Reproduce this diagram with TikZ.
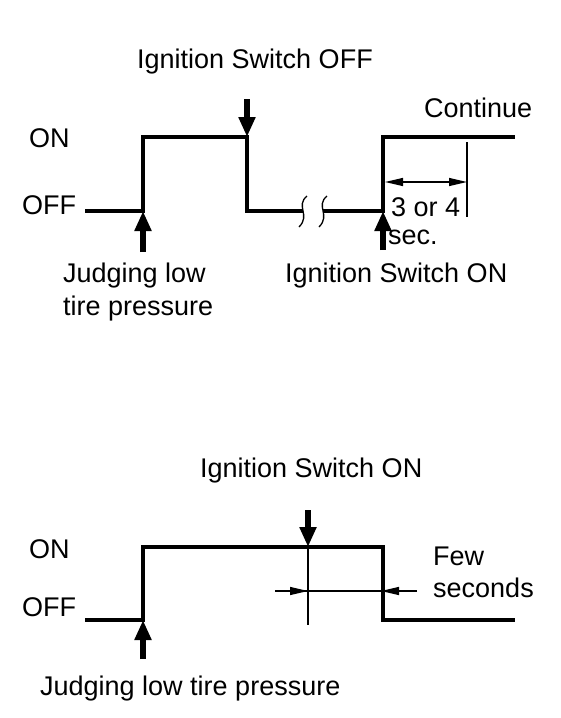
\documentclass[tikz,border=0pt]{standalone}
\usepackage{fontspec}
\setmainfont{Liberation Sans}
\usetikzlibrary{arrows.meta,positioning}

\begin{document}
\begin{tikzpicture}[x=1pt,y=-1pt,
        signal/.style={line width=4.5pt},
        push/.style={line width=5.5pt,-{Triangle[length=20pt,width=16pt]}},
        dimline/.style={line width=1.3pt},
        dimtip/.style={dimline,-{Triangle[length=18pt,width=8pt]}},
        lbl/.style={font=\fontsize{27}{31}\selectfont,inner sep=0pt,anchor=base west}]
    \useasboundingbox (0,0) rectangle (560,718);

    % upper chart
    \coordinate (u0) at (85,211);
    \coordinate (u1) at (143,211);
    \coordinate (u2) at (143,137);
    \coordinate (u3) at (247,137);
    \coordinate (u4) at (247,211);
    \coordinate (u5) at (303,211);
    \coordinate (u6) at (323,211);
    \coordinate (u7) at (383,211);
    \coordinate (u8) at (383,137);
    \coordinate (u9) at (515,137);
    \draw[signal] (u0) -- (u1) -- (u2) -- (u3) -- (u4) -- (u5);
    \draw[signal] (u6) -- (u7) -- (u8) -- (u9);
    \draw[dimline] (307,196) .. controls (295,206) and (311,215) .. (299,227);
    \draw[dimline] (327,196) .. controls (315,206) and (331,215) .. (319,227);

    \node[lbl] (uon)  at (29,147) {ON};
    \node[lbl] (uoff) at (22,214) {OFF};
    \node[lbl] (offsw) at (137,68) {Ignition Switch OFF};
    \node[lbl] (cont) at (424,117) {Continue};
    \node[lbl] (judge1) at (63,282) {Judging low};
    \node[lbl] (judge2) at (63,315) {tire pressure};
    \node[lbl] (onsw) at (285,282) {Ignition Switch ON};
    \node[lbl] (sec1) at (391,216) {3 or 4};
    \node[lbl] (sec2) at (388,244) {sec.};

    \coordinate (a1) at (143,252);
    \coordinate (a2) at (247,99);
    \coordinate (a3) at (383,250);
    \draw[push] (a1) -- (u1);
    \draw[push] (a2) -- (u3);
    \draw[push] (a3) -- (u7);

    \coordinate (d1) at (385,182);
    \coordinate (d2) at (467,182);
    \coordinate (dm) at (426,182);
    \draw[dimline] (467,142) -- (467,217);
    \draw[dimtip] (dm) -- (d1);
    \draw[dimtip] (dm) -- (d2);

    % lower chart
    \coordinate (l0) at (85,620);
    \coordinate (l1) at (143,620);
    \coordinate (l2) at (143,547);
    \coordinate (l3) at (383,547);
    \coordinate (l4) at (383,620);
    \coordinate (l5) at (515,620);
    \draw[signal] (l0) -- (l1) -- (l2) -- (l3) -- (l4) -- (l5);

    \node[lbl] (lon)  at (29,558) {ON};
    \node[lbl] (loff) at (22,616) {OFF};
    \node[lbl] (onsw2) at (200,477) {Ignition Switch ON};
    \node[lbl] (few1) at (433,565) {Few};
    \node[lbl] (few2) at (433,597) {seconds};
    \node[lbl] (judge3) at (40,695) {Judging low tire pressure};

    \coordinate (b1) at (143,659);
    \coordinate (b2) at (308,510);
    \coordinate (m) at (308,547);
    \draw[push] (b1) -- (l1);
    \draw[push] (b2) -- (m);

    \coordinate (e0) at (275,591);
    \coordinate (e1) at (308,591);
    \coordinate (e2) at (381,591);
    \coordinate (e3) at (417,591);
    \draw[dimline] (m) -- (308,625);
    \draw[dimline] (e0) -- (e3);
    \draw[dimtip] (e0) -- (e1);
    \draw[dimtip] (e3) -- (e2);
\end{tikzpicture}
\end{document}
